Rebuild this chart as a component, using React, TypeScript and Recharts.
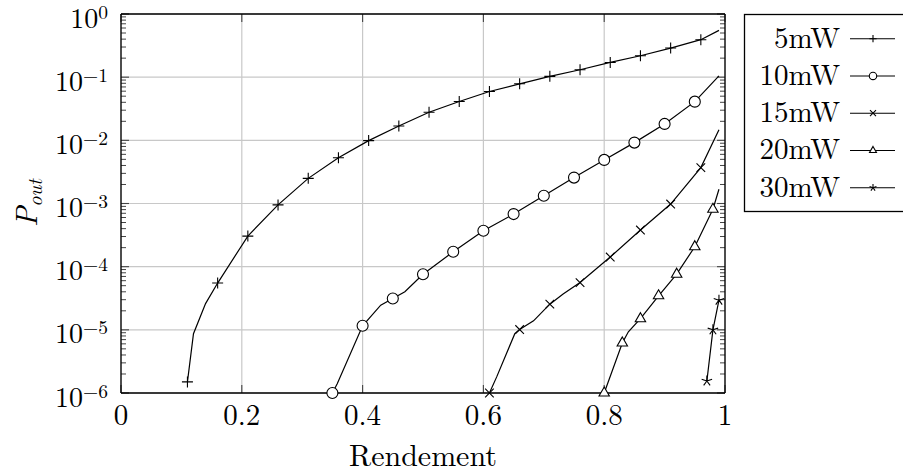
import React from 'react';
import { ComposedChart, Line, XAxis, YAxis, CartesianGrid, ReferenceLine } from 'recharts';

const SERIF = '"Latin Modern Roman", "CMU Serif", "Liberation Serif", "Times New Roman", serif';

// axes
const xTicks = [0, 0.2, 0.4, 0.6, 0.8, 1];
const xTickLabels = ['0', '0.2', '0.4', '0.6', '0.8', '1'];
const yTicks = [1e-6, 1e-5, 1e-4, 1e-3, 1e-2, 1e-1, 1];
const yExponents = ['−6', '−5', '−4', '−3', '−2', '−1', '0'];
const minorMultipliers = [2, 3, 4, 5, 6, 7, 8, 9];

const seriesNames = ['5mW', '10mW', '15mW', '20mW', '30mW'];

// 5mW
const x5 = [0.11, 0.12, 0.14, 0.16, 0.21, 0.26, 0.31, 0.36, 0.41, 0.46, 0.51, 0.56, 0.61, 0.66, 0.71, 0.76, 0.81, 0.86, 0.91, 0.96, 0.99];
const y5 = [1.5e-6, 8.7e-6, 2.6e-5, 5.5e-5, 3.05e-4, 9.5e-4, 2.5e-3, 5.3e-3, 9.9e-3, 1.69e-2, 2.79e-2, 4.12e-2, 5.93e-2, 7.85e-2, 0.103, 0.131, 0.171, 0.218, 0.289, 0.392, 0.55];
const marks5 = [0.11, 0.16, 0.21, 0.26, 0.31, 0.36, 0.41, 0.46, 0.51, 0.56, 0.61, 0.66, 0.71, 0.76, 0.81, 0.86, 0.91, 0.96];

// 10mW
const x10 = [0.35, 0.358, 0.4, 0.43, 0.45, 0.47, 0.5, 0.55, 0.6, 0.65, 0.7, 0.75, 0.8, 0.85, 0.9, 0.95, 0.99];
const y10 = [1e-6, 1.4e-6, 1.16e-5, 2.46e-5, 3.14e-5, 4.0e-5, 7.6e-5, 1.72e-4, 3.7e-4, 6.8e-4, 1.33e-3, 2.57e-3, 4.9e-3, 9.2e-3, 1.82e-2, 4.1e-2, 0.105];
const marks10 = [0.35, 0.4, 0.45, 0.5, 0.55, 0.6, 0.65, 0.7, 0.75, 0.8, 0.85, 0.9, 0.95];

// 15mW
const x15 = [0.61, 0.622, 0.652, 0.66, 0.683, 0.71, 0.732, 0.76, 0.81, 0.86, 0.91, 0.96, 0.99];
const y15 = [1e-6, 1.8e-6, 8.7e-6, 1.01e-5, 1.39e-5, 2.55e-5, 3.7e-5, 5.6e-5, 1.42e-4, 3.8e-4, 9.8e-4, 3.7e-3, 1.47e-2];
const marks15 = [0.61, 0.66, 0.71, 0.76, 0.81, 0.86, 0.91, 0.96];

// 20mW
const x20 = [0.8, 0.83, 0.84, 0.86, 0.89, 0.92, 0.95, 0.98, 0.99];
const y20 = [1e-6, 6.2e-6, 9.3e-6, 1.5e-5, 3.46e-5, 7.6e-5, 2.07e-4, 8.1e-4, 1.68e-3];
const marks20 = [0.8, 0.83, 0.86, 0.89, 0.92, 0.95, 0.98];

// 30mW
const x30 = [0.97, 0.98, 0.99];
const y30 = [1.55e-6, 1.0e-5, 2.95e-5];
const marks30 = [0.97, 0.98, 0.99];

const zip = (xs: number[], ys: number[]) => xs.map((x, i) => ({ x, y: ys[i] }));

type Kind = 'plus' | 'circle' | 'cross' | 'triangle' | 'star';

const series: { name: string; data: { x: number; y: number }[]; marks: number[]; kind: Kind }[] = [
  { name: seriesNames[0], data: zip(x5, y5), marks: marks5, kind: 'plus' },
  { name: seriesNames[1], data: zip(x10, y10), marks: marks10, kind: 'circle' },
  { name: seriesNames[2], data: zip(x15, y15), marks: marks15, kind: 'cross' },
  { name: seriesNames[3], data: zip(x20, y20), marks: marks20, kind: 'triangle' },
  { name: seriesNames[4], data: zip(x30, y30), marks: marks30, kind: 'star' },
];

const PLOT_SIZE: Record<Kind, number> = { plus: 5.5, circle: 5.5, cross: 4.3, triangle: 6, star: 5.5 };
const LEGEND_SIZE: Record<Kind, number> = { plus: 3.6, circle: 3.7, cross: 3, triangle: 4, star: 3.6 };

function Marker({ kind, cx, cy, s }: { kind: Kind; cx: number; cy: number; s: number }) {
  const st = { stroke: '#000', strokeWidth: 1.1, fill: 'none' };
  if (kind === 'plus') return <path d={`M${cx - s},${cy}H${cx + s}M${cx},${cy - s}V${cy + s}`} {...st} />;
  if (kind === 'circle') return <circle cx={cx} cy={cy} r={s} {...st} fill="#fff" />;
  if (kind === 'cross')
    return <path d={`M${cx - s},${cy - s}L${cx + s},${cy + s}M${cx - s},${cy + s}L${cx + s},${cy - s}`} {...st} />;
  if (kind === 'triangle') {
    const h = s * 0.866;
    return <path d={`M${cx},${cy - s}L${cx + h},${cy + s / 2}L${cx - h},${cy + s / 2}Z`} {...st} fill="#fff" />;
  }
  let d = '';
  for (let k = 0; k < 5; k++) {
    const a = (-90 + k * 72) * (Math.PI / 180);
    d += `M${cx},${cy}L${cx + s * Math.cos(a)},${cy + s * Math.sin(a)}`;
  }
  return <path d={d} {...st} />;
}

const makeDot = (marks: number[], kind: Kind) => (props: any) => {
  const { cx, cy, payload, index } = props;
  if (cx == null || cy == null || !marks.includes(payload.x)) return <g key={`d${index}`} />;
  return (
    <g key={`d${index}`}>
      <Marker kind={kind} cx={cx} cy={cy} s={PLOT_SIZE[kind]} />
    </g>
  );
};

const renderXTick = (props: any) => {
  const { x, y, payload } = props;
  return (
    <text x={x} y={y + 32} textAnchor="middle" fontFamily={SERIF} fontSize={29} fill="#000">
      {xTickLabels[xTicks.indexOf(payload.value)]}
    </text>
  );
};

const renderYTick = (props: any) => {
  const { x, y, payload } = props;
  const exp = yExponents[yTicks.findIndex((t) => Math.abs(t - payload.value) / t < 1e-6)];
  return (
    <text x={x - 13} y={y + 13.5} textAnchor="end" fontFamily={SERIF} fontSize={28} fill="#000">
      <tspan>10</tspan>
      <tspan dy={-9} fontSize={19.5}>{exp}</tspan>
    </text>
  );
};

// tick lengths converted to data units (604 px per x unit, 63.1 px per decade)
const X_MAJOR = 8 / 604;
const X_MINOR = 5 / 604;
const Y_UP = Math.pow(10, 8 / 63.1);

export default function App() {
  const minorVals: number[] = [];
  yTicks.slice(0, -1).forEach((t) => minorMultipliers.forEach((m) => minorVals.push(m * t)));
  const tickStroke = '#444';

  return (
    <div style={{ position: 'absolute', left: 0, top: 0, width: 903, height: 475, background: '#fff' }}>
      <ComposedChart width={903} height={475} margin={{ top: 14, right: 178, bottom: 0, left: 0 }}>
        <CartesianGrid stroke="#c8c8c8" strokeWidth={1.2} />
        <XAxis
          type="number"
          dataKey="x"
          domain={[0, 1]}
          ticks={xTicks}
          axisLine={false}
          tickLine={false}
          tickSize={0}
          tickMargin={0}
          height={82}
          tick={renderXTick}
        />
        <YAxis
          type="number"
          scale="log"
          domain={[1e-6, 1]}
          ticks={yTicks}
          axisLine={false}
          tickLine={false}
          tickSize={0}
          tickMargin={0}
          width={121}
          tick={renderYTick}
        />
        {minorVals.map((v) => (
          <ReferenceLine key={`ml${v}`} segment={[{ x: 0, y: v }, { x: X_MINOR, y: v }]} stroke={tickStroke} strokeWidth={1} />
        ))}
        {minorVals.map((v) => (
          <ReferenceLine key={`mr${v}`} segment={[{ x: 1 - X_MINOR, y: v }, { x: 1, y: v }]} stroke={tickStroke} strokeWidth={1} />
        ))}
        {yTicks.map((v) => (
          <ReferenceLine key={`Ml${v}`} segment={[{ x: 0, y: v }, { x: X_MAJOR, y: v }]} stroke={tickStroke} strokeWidth={1.1} />
        ))}
        {yTicks.map((v) => (
          <ReferenceLine key={`Mr${v}`} segment={[{ x: 1 - X_MAJOR, y: v }, { x: 1, y: v }]} stroke={tickStroke} strokeWidth={1.1} />
        ))}
        {xTicks.map((v) => (
          <ReferenceLine key={`xb${v}`} segment={[{ x: v, y: 1e-6 }, { x: v, y: 1e-6 * Y_UP }]} stroke={tickStroke} strokeWidth={1.1} />
        ))}
        {xTicks.map((v) => (
          <ReferenceLine key={`xt${v}`} segment={[{ x: v, y: 1 / Y_UP }, { x: v, y: 1 }]} stroke={tickStroke} strokeWidth={1.1} />
        ))}
        <ReferenceLine x={0} stroke="#000" strokeWidth={1.3} />
        <ReferenceLine x={1} stroke="#000" strokeWidth={1.3} />
        <ReferenceLine y={1e-6} stroke="#000" strokeWidth={1.3} />
        <ReferenceLine y={1} stroke="#000" strokeWidth={1.3} />
        {series.map((s) => (
          <Line
            key={s.name}
            data={s.data}
            dataKey="y"
            type="linear"
            stroke="#000"
            strokeWidth={1.2}
            dot={makeDot(s.marks, s.kind)}
            activeDot={false}
            isAnimationActive={false}
          />
        ))}
      </ComposedChart>

      <svg width={903} height={475} style={{ position: 'absolute', left: 0, top: 0, pointerEvents: 'none' }}>
        <text x={423} y={466} textAnchor="middle" fontFamily={SERIF} fontSize={30} fill="#000">
          Rendement
        </text>
        <text
          x={37}
          y={203}
          transform="rotate(-90, 37, 203)"
          textAnchor="middle"
          fontFamily={SERIF}
          fontStyle="italic"
          fontSize={30}
          fill="#000"
        >
          <tspan>P</tspan>
          <tspan dy={5} fontSize={20}>out</tspan>
        </text>

        <rect x={744.5} y={14.5} width={200} height={197} fill="#fff" stroke="#000" strokeWidth={1.3} />
        {series.map((s, i) => {
          const base = 47.7 + i * 37.25;
          const ly = base - 9;
          return (
            <g key={s.name}>
              <text x={840} y={base} textAnchor="end" fontFamily={SERIF} fontSize={29} fill="#000">
                {s.name}
              </text>
              <line x1={850} x2={895} y1={ly} y2={ly} stroke="#000" strokeWidth={1.1} />
              <Marker kind={s.kind} cx={873} cy={ly} s={LEGEND_SIZE[s.kind]} />
            </g>
          );
        })}
      </svg>
    </div>
  );
}
